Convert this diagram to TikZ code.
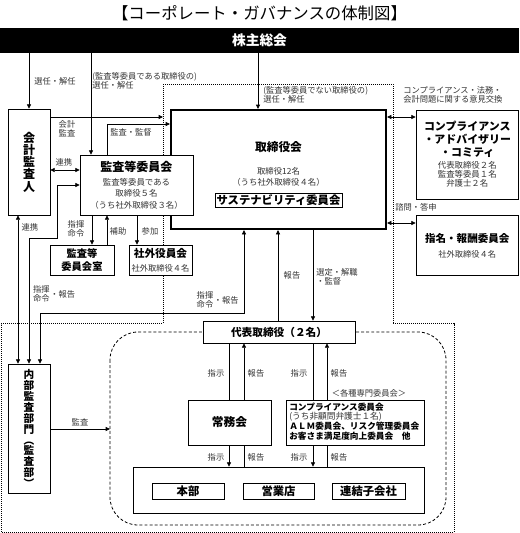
\documentclass[tikz,border=0pt]{standalone}
\usepackage{fontspec}
\setmainfont{Noto Sans CJK JP}
\usetikzlibrary{arrows.meta,positioning}

\tikzset{
  box/.style={draw, fill=white, line width=0.6pt, inner sep=0pt},
  wh/.style 2 args={minimum width=#1*0.75pt, minimum height=#2*0.75pt},
  ttl/.style={font=\bfseries\fontsize{#1}{#1}\selectfont},
  ttl/.default=8.5pt,
  lab/.style={font=\fontsize{6.2pt}{6.6pt}\selectfont, text=black!80, inner sep=0pt, align=center},
  arr/.style={line width=0.5pt, -{Triangle[length=3.2pt,width=3pt]}},
  darr/.style={line width=0.5pt, {Triangle[length=3.2pt,width=3pt]}-{Triangle[length=3.2pt,width=3pt]}},
  ln/.style={line width=0.5pt},
  frame/.style={line width=0.6pt, dash pattern=on 0.6pt off 0.9pt},
  zone/.style={line width=0.6pt, dash pattern=on 2.2pt off 1.6pt, rounded corners=21pt}
}

\begin{document}
\begin{tikzpicture}[x=0.75pt,y=0.75pt,yscale=-1,xscale=1]
\useasboundingbox (0,0) rectangle (519,533);

% Title
\node[font=\fontsize{12.3pt}{14pt}\selectfont] (title) at (259.5,13) {【コーポレート・ガバナンスの体制図】};

%Shape: dotted frame round the board
\draw[frame] (163,84) -- (393,84) -- (393,323.5) -- (454,323.5) -- (454,532) -- (1.5,532) -- (1.5,323.5) -- (163,323.5) -- cycle;
%Shape: dashed zone of the executives
\draw[zone] (110,332) rectangle (446,525);

%Shape: Rectangles
\node[fill=black, text=white, wh={519}{25}, inner sep=0pt, ttl=10.3pt] (kabu) at (259.5,40.5) {株主総会};
\node[box, wh={42}{106}, align=center, font=\bfseries\fontsize{9pt}{9.15pt}\selectfont] (kaikei) at (29,162) {会\\計\\監\\査\\人};
\node[box, line width=1.6pt, wh={215}{119}] (torishimari) at (278.5,169.5) {};
\node[box, wh={113}{60}] (kansa) at (136.5,185) {};
\node[box, wh={127}{14}, ttl=8.5pt] (sustain) at (278.5,200) {サステナビリティ委員会};
\node[box, wh={102.5}{89}] (cac) at (467.25,154.5) {};
\node[box, wh={102.5}{60}] (nomination) at (467.25,245) {};
\node[box, wh={64}{30}, align=center, font=\bfseries\fontsize{7.7pt}{9.75pt}\selectfont] (kansashitsu) at (82,260) {監査等\\委員会室};
\node[box, wh={63}{30}] (shagai) at (160.5,260) {};
\node[box, wh={152}{22}, ttl=8pt] (daihyo) at (279,332) {代表取締役（２名）};
\node[box, wh={42}{129}, align=center, font=\bfseries\fontsize{8pt}{8.2pt}\selectfont] (naibu) at (29,428.5) {内\\部\\監\\査\\部\\門\\︵\\監\\査\\部\\︶};
\node[box, wh={83}{45}, ttl=8.8pt] (jomu) at (229.5,422.5) {常務会};
\node[box, wh={138}{45}] (comp) at (355,422.5) {};
\node[box, wh={291}{46}] (genba) at (278.5,490) {};
\node[box, wh={72}{16}, ttl=8.5pt] (honbu) at (188,491) {本部};
\node[box, wh={71}{16}, ttl=8.5pt] (eigyo) at (278.5,491) {営業店};
\node[box, wh={73}{16}, ttl=8.5pt] (renketsu) at (368.5,491) {連結子会社};

% Text Node: inside the boxes
\node[ttl=9pt] (kansat) at (136.5,167) {監査等委員会};
\node[lab, font=\fontsize{6.3pt}{8.6pt}\selectfont] (kansas) at (136.5,193.5) {監査等委員である\\取締役５名\\（うち社外取締役３名）};
\node[ttl=8.8pt] (torishimarit) at (278.5,147) {取締役会};
\node[lab, font=\fontsize{6.3pt}{8.25pt}\selectfont] (torishimaris) at (278.5,176.5) {取締役12名\\（うち社外取締役４名）};
\node[align=center, font=\bfseries\fontsize{8.2pt}{9.8pt}\selectfont] (cact) at (467.25,139) {コンプライアンス\\・アドバイザリー\\・コミティ};
\node[lab, font=\fontsize{6.3pt}{6.75pt}\selectfont] (cacs) at (467.25,174) {代表取締役２名\\監査等委員１名\\弁護士２名};
\node[ttl=7.9pt] (nominationt) at (467.25,238) {指名・報酬委員会};
\node[lab] (nominations) at (467.25,254) {社外取締役４名};
\node[ttl=8pt] (shagait) at (160.5,253) {社外役員会};
\node[lab] (shagais) at (160.5,268) {社外取締役４名};
\node[anchor=west, align=left, inner sep=0pt, font=\fontsize{6.5pt}{7.3pt}\selectfont] (compt) at (289,421.5) {\textbf{コンプライアンス委員会}\\\textcolor{black!80}{(うち非顧問弁護士１名)}\\\textbf{ＡＬＭ委員会、リスク管理委員会}\\\textbf{お客さま満足度向上委員会　他}};

%Straight Lines
\draw[arr] (kabu.south -| kaikei.north) -- (kaikei.north);
\draw[arr] (kabu.south -| 91,0) -- (kansa.north -| 91,0);
\draw[arr] (kabu.south -| 258,0) -- (torishimari.north -| 258,0);
\coordinate (auditend) at (163,117);
\draw[arr] (kaikei.east |- auditend) -- (auditend);
\draw[arr] (kansa.north -| 107,0) |- (torishimari.west |- 0,124);
\draw[darr] (kaikei.east |- 0,170) -- (kansa.west |- 0,170);
\draw[darr] (kansa.west |- 0,185) -| (57,238) -| (naibu.north);
\draw[darr] (kaikei.south -| 18,0) -- (naibu.north -| 18,0);
\draw[darr] (torishimari.south -| 244,0) -- (244,313) -| (naibu.north -| 40,0);
\draw[arr] (kansa.south -| 92,0) -- (kansashitsu.north -| 92,0);
\draw[arr] (kansashitsu.north -| 107,0) -- (kansa.south -| 107,0);
\draw[arr] (kansa.south -| 137,0) -- (shagai.north -| 137,0);
\draw[darr] (torishimari.east |- 0,117) -- (cac.west |- 0,117);
\draw[darr] (torishimari.east |- 0,223) -- (nomination.west |- 0,223);
\draw[arr] (daihyo.north -| 278,0) -- (torishimari.south -| 278,0);
\draw[arr] (torishimari.south -| 313,0) -- (daihyo.north -| 313,0);
\draw[ln] (daihyo.south -| 229,0) -- (jomu.north -| 229,0);
\draw[arr] (jomu.north -| 244,0) -- (daihyo.south -| 244,0);
\draw[ln] (daihyo.south -| 313,0) -- (comp.north -| 313,0);
\draw[arr] (comp.north -| 327,0) -- (daihyo.south -| 327,0);
\draw[arr] (jomu.south -| 229,0) -- (genba.north -| 229,0);
\draw[ln] (genba.north -| 244,0) -- (jomu.south -| 244,0);
\draw[arr] (comp.south -| 313,0) -- (genba.north -| 313,0);
\draw[ln] (genba.north -| 327,0) -- (comp.south -| 327,0);
\coordinate (auditin) at (110,429);
\draw[arr] (naibu.east |- auditin) -- (auditin);

% Text Node: labels on the lines
\node[lab] (elect1) at (55,81) {選任・解任};
\node[lab, anchor=west, align=left] (elect2) at (92,81) {(監査等委員である取締役の)\\選任・解任};
\node[lab, anchor=west, align=left] (elect3) at (263,94.5) {(監査等委員でない取締役の)\\選任・解任};
\node[lab, anchor=west, align=left] (exchange) at (403,94.5) {コンプライアンス・法務・\\会計問題に関する意見交換};
\node[lab] (acct) at (67,129) {会計\\監査};
\node[lab] (oversee) at (131,132) {監査・監督};
\node[lab] (link1) at (64,162) {連携};
\node[lab] (link2) at (30,227) {連携};
\node[lab] (cmd1) at (76,229) {指揮\\命令};
\node[lab] (assist) at (118,231) {補助};
\node[lab] (join) at (150,231) {参加};
\node[lab] (consult) at (416,207) {諮問・答申};
\node[lab] (cmd2) at (41.5,294) {指揮\\命令};
\node[lab, right=0pt of cmd2] (rep2) {・報告};
\node[lab] (cmd3) at (205,300) {指揮\\命令};
\node[lab, right=0pt of cmd3] (rep3) {・報告};
\node[lab] (rep4) at (292,275) {報告};
\node[lab, anchor=west, align=left] (appoint) at (316,277) {選定・解職\\・監督};
\node[lab] (audit) at (80,422) {監査};
\node[lab] (ins1) at (216,373) {指示};
\node[lab] (rep5) at (256,373) {報告};
\node[lab] (ins2) at (299,373) {指示};
\node[lab] (rep6) at (339,373) {報告};
\node[lab] (kinds) at (369,393) {＜各種専門委員会＞};
\node[lab] (ins3) at (216,457) {指示};
\node[lab] (rep7) at (256,457) {報告};
\node[lab] (ins4) at (299,457) {指示};
\node[lab] (rep8) at (339,457) {報告};
\end{tikzpicture}
\end{document}
